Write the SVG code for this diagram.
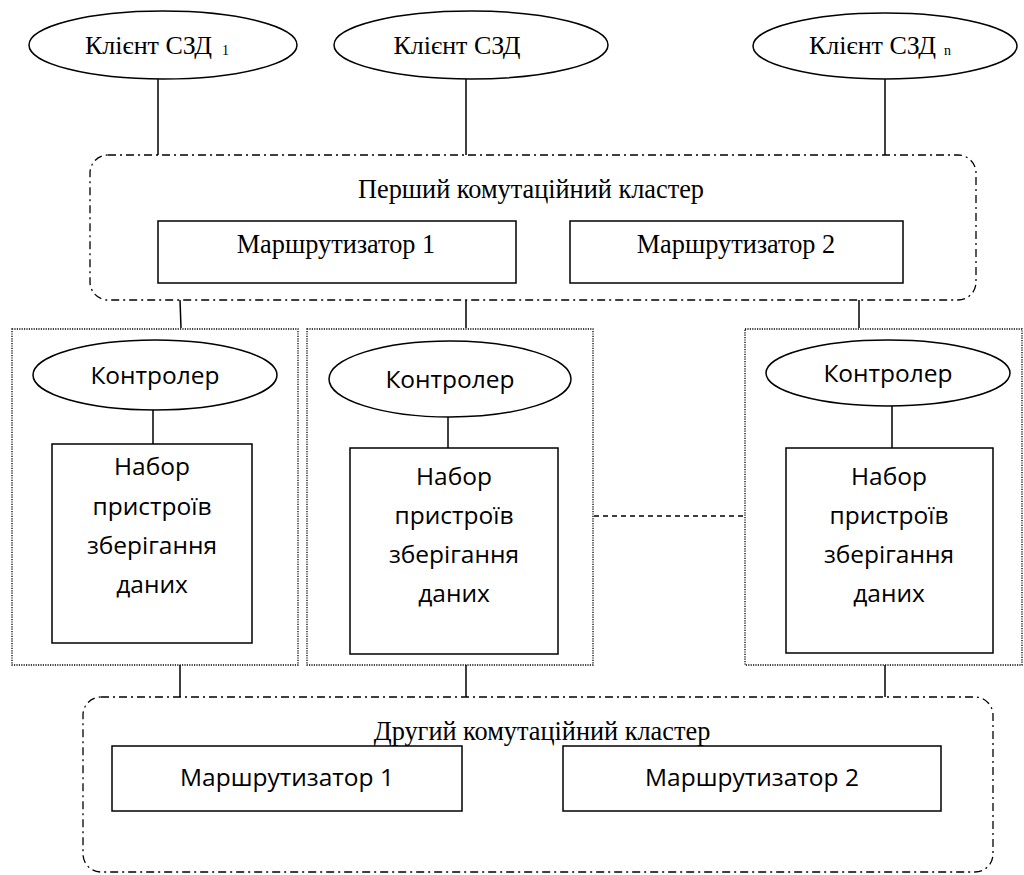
<svg xmlns="http://www.w3.org/2000/svg" width="1024" height="875" viewBox="0 0 1024 875">
<style>
.o{fill:#fff;stroke:#000;stroke-width:1.5}
.dd{fill:none;stroke:#000;stroke-width:1.3;stroke-dasharray:8 4 2 4}
.dt{fill:none;stroke:#000;stroke-width:1.3;stroke-dasharray:1.2 1.2}
.ln{stroke:#000;stroke-width:1.5;fill:none}
.dash{stroke:#000;stroke-width:1.3;stroke-dasharray:5 4;fill:none}
.s{font-family:"Liberation Serif","DejaVu Serif","Times New Roman",serif;font-size:26.3px;fill:#000;text-anchor:middle}
.c{font-family:"Liberation Serif","DejaVu Serif","Times New Roman",serif;font-size:26px;fill:#000}
.sub{font-family:"Liberation Serif","DejaVu Serif","Times New Roman",serif;font-size:14px;fill:#000}
.n{font-family:"Open Sans","Liberation Sans",sans-serif;font-size:24.5px;fill:#000;text-anchor:middle}
</style>
<rect width="1024" height="875" fill="#fff"/>
<g id="connectors">
<line class="ln" x1="158" y1="79" x2="158" y2="155"/>
<line class="ln" x1="466" y1="79" x2="466" y2="155"/>
<line class="ln" x1="885" y1="79" x2="885" y2="155"/>
<line class="ln" x1="180" y1="300" x2="181" y2="328"/>
<line class="ln" x1="466" y1="300" x2="466" y2="328"/>
<line class="ln" x1="859" y1="300" x2="859" y2="328"/>
<line class="ln" x1="153" y1="410" x2="153" y2="444"/>
<line class="ln" x1="448" y1="417" x2="448" y2="448"/>
<line class="ln" x1="892" y1="406" x2="892" y2="448"/>
<line class="dash" x1="594" y1="516" x2="745" y2="516"/>
<line class="ln" x1="180" y1="665" x2="180" y2="697"/>
<line class="ln" x1="466" y1="665" x2="466" y2="697"/>
<line class="ln" x1="885" y1="665" x2="885" y2="697"/>
</g>
<g id="client1">
<ellipse class="o" cx="163" cy="45" rx="134" ry="34"/>
<text class="c" x="85" y="54">Клієнт СЗД</text>
<text class="sub" x="222" y="55">1</text>
</g>
<g id="client2">
<ellipse class="o" cx="471" cy="45" rx="137" ry="34"/>
<text class="c" x="457" y="54" text-anchor="middle">Клієнт СЗД</text>
</g>
<g id="clientn">
<ellipse class="o" cx="885" cy="46" rx="132" ry="33"/>
<text class="c" x="809" y="54">Клієнт СЗД</text>
<text class="sub" x="944" y="55">n</text>
</g>
<g id="cluster1">
<rect class="dd" x="90" y="155" width="886" height="145" rx="18" ry="18"/>
<text class="s" x="531" y="198" font-size="27.6">Перший комутаційний кластер</text>
</g>
<g id="router1a">
<rect class="o" x="158" y="221" width="358" height="62"/>
<text class="s" x="336" y="253">Маршрутизатор 1</text>
</g>
<g id="router2a">
<rect class="o" x="570" y="221" width="333" height="62"/>
<text class="s" x="736" y="253">Маршрутизатор 2</text>
</g>
<g id="group1">
<rect class="dt" x="12" y="329" width="286" height="336"/>
</g>
<g id="group2">
<rect class="dt" x="307" y="329" width="286" height="336"/>
</g>
<g id="group3">
<rect class="dt" x="745" y="329" width="277" height="336"/>
</g>
<g id="ctrl1">
<ellipse class="o" cx="155" cy="375" rx="122" ry="35"/>
<text class="n" x="155" y="384">Контролер</text>
</g>
<g id="ctrl2">
<ellipse class="o" cx="450" cy="379" rx="121" ry="38"/>
<text class="n" x="450" y="388">Контролер</text>
</g>
<g id="ctrl3">
<ellipse class="o" cx="888" cy="373" rx="122" ry="33"/>
<text class="n" x="888" y="382">Контролер</text>
</g>
<g id="store1">
<rect class="o" x="52" y="444" width="200" height="199"/>
<text class="n" x="152" y="475">Набор</text>
<text class="n" x="152" y="515">пристроїв</text>
<text class="n" x="152" y="554">зберігання</text>
<text class="n" x="152" y="593">даних</text>
</g>
<g id="store2">
<rect class="o" x="350" y="448" width="208" height="206"/>
<text class="n" x="454" y="485">Набор</text>
<text class="n" x="454" y="524">пристроїв</text>
<text class="n" x="454" y="563">зберігання</text>
<text class="n" x="454" y="602">даних</text>
</g>
<g id="store3">
<rect class="o" x="786" y="448" width="207" height="205"/>
<text class="n" x="889" y="485">Набор</text>
<text class="n" x="889" y="524">пристроїв</text>
<text class="n" x="889" y="563">зберігання</text>
<text class="n" x="889" y="602">даних</text>
</g>
<g id="cluster2">
<rect class="dd" x="83" y="697" width="910" height="175" rx="18" ry="18"/>
<text class="s" x="542" y="740" font-size="27.6">Другий комутаційний кластер</text>
</g>
<g id="router1b">
<rect class="o" x="112" y="746" width="350" height="65"/>
<text class="n" x="287" y="786" font-size="25.8">Маршрутизатор 1</text>
</g>
<g id="router2b">
<rect class="o" x="563" y="746" width="378" height="65"/>
<text class="n" x="752" y="786" font-size="25.8">Маршрутизатор 2</text>
</g>
</svg>
